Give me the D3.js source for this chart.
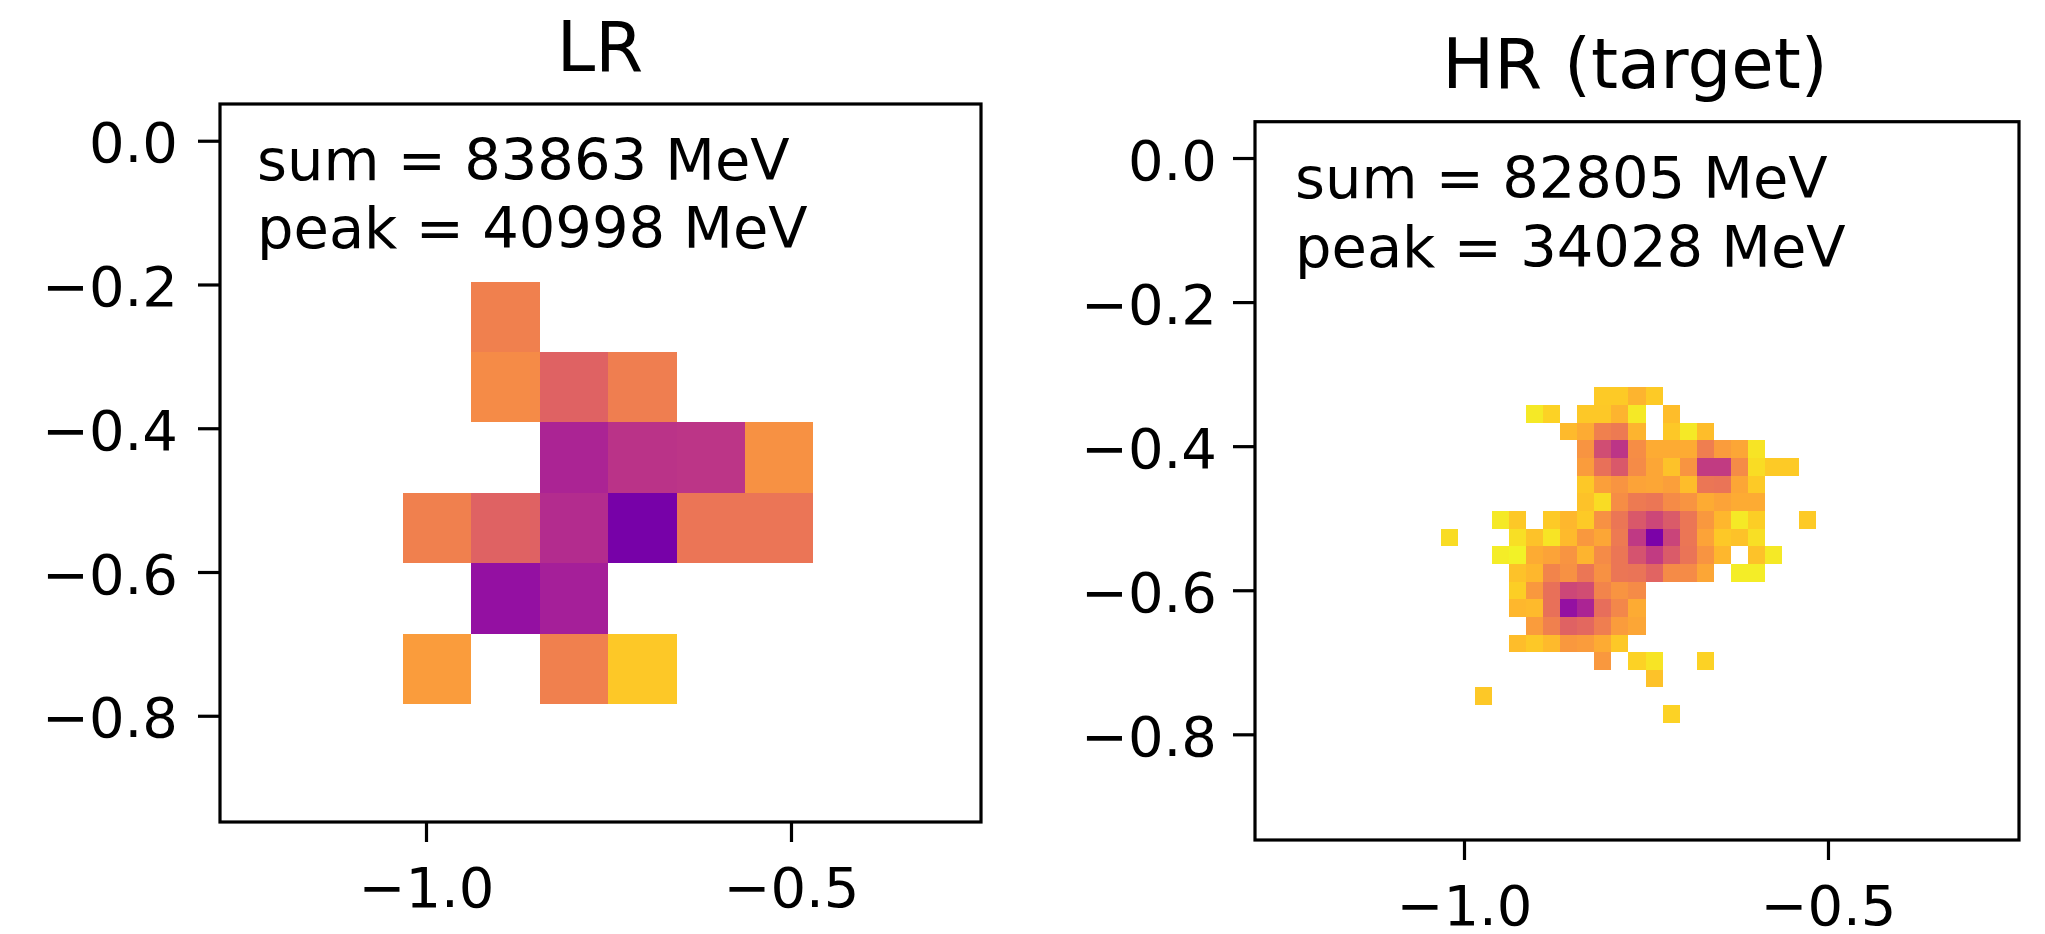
<!DOCTYPE html>
<html>
<head>
<meta charset="utf-8">
<script src="https://cdn.jsdelivr.net/npm/d3@7"></script>
<style>
html,body{margin:0;padding:0;background:#fff;}
svg{display:block;filter:blur(0.7px);}
text{font-family:"DejaVu Sans";fill:#000;}
</style>
</head>
<body>
<svg id="chart" width="2045" height="934"></svg>
<script>
// Tick labels
const xTicks = [-1.0, -0.5];
const yTicks = [0.0, -0.2, -0.4, -0.6, -0.8];

// Panel titles and notes
const lrTitle = "LR";
const hrTitle = "HR (target)";
const lrNotes = ["sum = 83863 MeV", "peak = 40998 MeV"];
const hrNotes = ["sum = 82805 MeV", "peak = 34028 MeV"];

// Colour norm limits, MeV
const colorLimits = [1, 1e6];

// Grid geometry in data units: first cell corner and cell size
const lrGrid = {x0: -1.032, y0: -0.196, dx: 0.0938, dy: -0.098};
const hrGrid = {x0: -1.032, y0: -0.196, dx: 0.02345, dy: -0.0245};

// LR cell energies (MeV), row by row from the top, 0 = empty
const lrEnergy = [
  [0, 72, 0, 0, 0, 0],
  [0, 48, 288, 83, 0, 0],
  [0, 0, 5248, 2630, 2291, 36],
  [72, 288, 3467, 40998, 117, 117],
  [0, 13804, 6918, 0, 0, 0],
  [24, 0, 72, 5, 0, 0]
];

// HR cell energies (MeV), rows 5..23, columns 0..21, 0 = empty
const hrFirstRow = 5;
const hrEnergy = [
  [0,0,0,0,0,0,0,0,0,4.6,4.6,10,4.6,0,0,0,0,0,0,0,0,0],
  [0,0,0,0,0,1.7,3.5,0,5,5,10,1.7,0,7,0,0,0,0,0,0,0,0],
  [0,0,0,0,0,0,0,8,14,72,95,10,0,5,1.7,7,0,0,0,0,0,0],
  [0,0,0,0,0,0,0,0,32,759,2291,42,14,14,14,83,24,16,2,0,0,0],
  [0,0,0,0,0,0,0,0,24,145,437,48,16,6,32,1738,1738,48,2.6,4.6,4.6,0],
  [0,0,0,0,0,0,0,0,5,21,32,18,16,21,7,110,126,16,4.6,0,0,0],
  [0,0,0,0,0,0,0,0,6,2.6,42,95,110,48,32,14,18,14,14,0,0,0],
  [0,0,0,1.7,5,0,4.6,9,4.6,36,110,437,1000,380,110,28,9,1.7,4,0,0,4.6],
  [2.6,0,0,0,2.3,6,2,8,28,16,95,1995,34028,1148,110,18,5,6,2.3,0,0,0],
  [0,0,0,1.5,1.3,14,18,32,10,48,110,575,1738,380,126,32,9,0,6,1.7,0,0],
  [0,0,0,0,6,9,63,36,110,36,110,126,251,48,48,16,0,1.5,1.5,0,0,0],
  [0,0,0,0,4,28,145,1000,759,63,32,48,0,0,0,0,0,0,0,0,0,0],
  [0,0,0,0,9,8,145,13804,5248,166,55,14,0,0,0,0,0,0,0,0,0,0],
  [0,0,0,0,0,24,72,288,219,83,24,16,0,0,0,0,0,0,0,0,0,0],
  [0,0,0,0,7,5,8,28,24,14,5,0,0,0,0,0,0,0,0,0,0,0],
  [0,0,0,0,0,0,0,0,0,28,0,3.5,2,0,0,3.5,0,0,0,0,0,0],
  [0,0,0,0,0,0,0,0,0,0,0,0,6,0,0,0,0,0,0,0,0,0],
  [0,0,5,0,0,0,0,0,0,0,0,0,0,0,0,0,0,0,0,0,0,0],
  [0,0,0,0,0,0,0,0,0,0,0,0,0,3.5,0,0,0,0,0,0,0,0]
];

const norm = d3.scaleLog().domain(colorLimits).range([0, 1]).clamp(true);
const color = e => d3.interpolatePlasma(1 - norm(e));

const svg = d3.select("#chart");

const panels = [
  {title: lrTitle, notes: lrNotes, grid: lrGrid, data: lrEnergy, firstRow: 0,
   xDomain: [-1.2822, -0.2397], yDomain: [0.0511, -0.9478],
   xRange: [220, 981], yRange: [104, 822],
   titleX: 600, titleY: 71, noteX: 257, noteY: [180, 248], xLabelY: 907, yLabelRight: 178},
  {title: hrTitle, notes: hrNotes, grid: hrGrid, data: hrEnergy, firstRow: hrFirstRow,
   xDomain: [-1.2871, -0.2376], yDomain: [0.0504, -0.9467],
   xRange: [1255, 2019], yRange: [121.7, 840],
   titleX: 1635, titleY: 88, noteX: 1295, noteY: [198, 267], xLabelY: 925, yLabelRight: 1217}
];

panels.forEach(p => {
  const x = d3.scaleLinear().domain(p.xDomain).range(p.xRange);
  const y = d3.scaleLinear().domain(p.yDomain).range(p.yRange);
  const g = svg.append("g");

  const cells = [];
  p.data.forEach((row, r) => row.forEach((e, c) => {
    if (e > 0) cells.push({r: r + p.firstRow, c, e});
  }));

  g.selectAll("rect.cell").data(cells).join("rect")
    .attr("class", "cell")
    .attr("x", d => x(p.grid.x0 + d.c * p.grid.dx))
    .attr("y", d => y(p.grid.y0 + d.r * p.grid.dy))
    .attr("width", d => x(p.grid.x0 + (d.c + 1) * p.grid.dx) - x(p.grid.x0 + d.c * p.grid.dx))
    .attr("height", d => y(p.grid.y0 + (d.r + 1) * p.grid.dy) - y(p.grid.y0 + d.r * p.grid.dy))
    .attr("fill", d => color(d.e))
    .attr("shape-rendering", "crispEdges");

  g.append("rect")
    .attr("x", p.xRange[0]).attr("y", p.yRange[0])
    .attr("width", p.xRange[1] - p.xRange[0])
    .attr("height", p.yRange[1] - p.yRange[0])
    .attr("fill", "none").attr("stroke", "#000").attr("stroke-width", 3.2);

  const fmt = d3.format(".1f");
  const xAxis = g.append("g").attr("transform", `translate(0,${p.yRange[1]})`)
    .call(d3.axisBottom(x).tickValues(xTicks).tickFormat(fmt).tickSize(20).tickPadding(0));
  xAxis.select(".domain").remove();
  xAxis.selectAll("line").attr("stroke", "#000").attr("stroke-width", 3.2);
  xAxis.selectAll("text").attr("font-size", 56).attr("font-family", "DejaVu Sans")
    .attr("fill", "#000").attr("dy", null)
    .attr("y", p.xLabelY - p.yRange[1]);

  const yAxis = g.append("g").attr("transform", `translate(${p.xRange[0]},0)`)
    .call(d3.axisLeft(y).tickValues(yTicks).tickFormat(fmt).tickSize(22).tickPadding(0));
  yAxis.select(".domain").remove();
  yAxis.selectAll("line").attr("stroke", "#000").attr("stroke-width", 3.2);
  yAxis.selectAll("text").attr("font-size", 56).attr("font-family", "DejaVu Sans")
    .attr("fill", "#000").attr("dy", null)
    .attr("x", p.yLabelRight - p.xRange[0]).attr("y", 21);

  g.append("text").attr("x", p.titleX).attr("y", p.titleY)
    .attr("text-anchor", "middle").attr("font-size", 69).text(p.title);

  p.notes.forEach((t, i) => {
    g.append("text").attr("x", p.noteX).attr("y", p.noteY[i])
      .attr("font-size", 57.5).text(t);
  });
});
</script>
</body>
</html>
